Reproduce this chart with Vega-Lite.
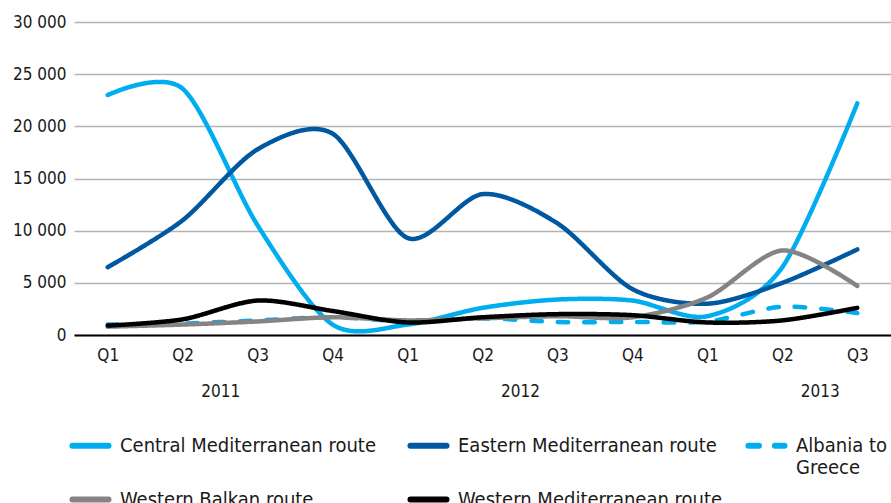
{
  "$schema": "https://vega.github.io/schema/vega-lite/v6.json",
  "width": 817,
  "height": 313,
  "autosize": {"type": "none"},
  "padding": {"left": 74, "top": 22, "right": 0, "bottom": 168},
  "background": "white",
  "config": {
    "font": "Liberation Sans Narrow, DejaVu Sans Condensed, sans-serif",
    "view": {"stroke": null},
    "axis": {"labelFont": "Liberation Sans Narrow, DejaVu Sans Condensed, sans-serif", "labelColor": "#1a1a1a"}
  },
  "data": {
    "values": [
      {"q": "2011-Q1", "route": "Central Mediterranean route", "value": 23000},
      {"q": "2011-Q2", "route": "Central Mediterranean route", "value": 23600},
      {"q": "2011-Q3", "route": "Central Mediterranean route", "value": 10500},
      {"q": "2011-Q4", "route": "Central Mediterranean route", "value": 1000},
      {"q": "2012-Q1", "route": "Central Mediterranean route", "value": 1000},
      {"q": "2012-Q2", "route": "Central Mediterranean route", "value": 2600},
      {"q": "2012-Q3", "route": "Central Mediterranean route", "value": 3400},
      {"q": "2012-Q4", "route": "Central Mediterranean route", "value": 3300},
      {"q": "2013-Q1", "route": "Central Mediterranean route", "value": 1800},
      {"q": "2013-Q2", "route": "Central Mediterranean route", "value": 6500},
      {"q": "2013-Q3", "route": "Central Mediterranean route", "value": 22200},
      {"q": "2011-Q1", "route": "Eastern Mediterranean route", "value": 6500},
      {"q": "2011-Q2", "route": "Eastern Mediterranean route", "value": 11000},
      {"q": "2011-Q3", "route": "Eastern Mediterranean route", "value": 17800},
      {"q": "2011-Q4", "route": "Eastern Mediterranean route", "value": 19300},
      {"q": "2012-Q1", "route": "Eastern Mediterranean route", "value": 9300},
      {"q": "2012-Q2", "route": "Eastern Mediterranean route", "value": 13500},
      {"q": "2012-Q3", "route": "Eastern Mediterranean route", "value": 10700},
      {"q": "2012-Q4", "route": "Eastern Mediterranean route", "value": 4400},
      {"q": "2013-Q1", "route": "Eastern Mediterranean route", "value": 3000},
      {"q": "2013-Q2", "route": "Eastern Mediterranean route", "value": 5000},
      {"q": "2013-Q3", "route": "Eastern Mediterranean route", "value": 8200},
      {"q": "2011-Q1", "route": "Albania to Greece", "value": 1000},
      {"q": "2011-Q2", "route": "Albania to Greece", "value": 1100},
      {"q": "2011-Q3", "route": "Albania to Greece", "value": 1400},
      {"q": "2011-Q4", "route": "Albania to Greece", "value": 1700},
      {"q": "2012-Q1", "route": "Albania to Greece", "value": 1300},
      {"q": "2012-Q2", "route": "Albania to Greece", "value": 1600},
      {"q": "2012-Q3", "route": "Albania to Greece", "value": 1250},
      {"q": "2012-Q4", "route": "Albania to Greece", "value": 1250},
      {"q": "2013-Q1", "route": "Albania to Greece", "value": 1300},
      {"q": "2013-Q2", "route": "Albania to Greece", "value": 2700},
      {"q": "2013-Q3", "route": "Albania to Greece", "value": 2100},
      {"q": "2011-Q1", "route": "Western Balkan route", "value": 800},
      {"q": "2011-Q2", "route": "Western Balkan route", "value": 1000},
      {"q": "2011-Q3", "route": "Western Balkan route", "value": 1300},
      {"q": "2011-Q4", "route": "Western Balkan route", "value": 1700},
      {"q": "2012-Q1", "route": "Western Balkan route", "value": 1400},
      {"q": "2012-Q2", "route": "Western Balkan route", "value": 1600},
      {"q": "2012-Q3", "route": "Western Balkan route", "value": 1800},
      {"q": "2012-Q4", "route": "Western Balkan route", "value": 1700},
      {"q": "2013-Q1", "route": "Western Balkan route", "value": 3600},
      {"q": "2013-Q2", "route": "Western Balkan route", "value": 8100},
      {"q": "2013-Q3", "route": "Western Balkan route", "value": 4700},
      {"q": "2011-Q1", "route": "Western Mediterranean route", "value": 900},
      {"q": "2011-Q2", "route": "Western Mediterranean route", "value": 1500},
      {"q": "2011-Q3", "route": "Western Mediterranean route", "value": 3300},
      {"q": "2011-Q4", "route": "Western Mediterranean route", "value": 2300},
      {"q": "2012-Q1", "route": "Western Mediterranean route", "value": 1200},
      {"q": "2012-Q2", "route": "Western Mediterranean route", "value": 1700},
      {"q": "2012-Q3", "route": "Western Mediterranean route", "value": 2000},
      {"q": "2012-Q4", "route": "Western Mediterranean route", "value": 1900},
      {"q": "2013-Q1", "route": "Western Mediterranean route", "value": 1200},
      {"q": "2013-Q2", "route": "Western Mediterranean route", "value": 1400},
      {"q": "2013-Q3", "route": "Western Mediterranean route", "value": 2600}
    ]
  },
  "layer": [
    {
      "mark": {"type": "line", "interpolate": "cardinal", "tension": 0.15, "strokeWidth": 4.5, "strokeCap": "round", "strokeJoin": "round"},
      "encoding": {
        "x": {
          "field": "q", "type": "ordinal",
          "scale": {"type": "point", "padding": 0.45},
          "axis": {
            "title": null, "labelExpr": "slice(datum.value, 5)", "labelAngle": 0,
            "labelFontSize": 17, "labelPadding": 12, "ticks": false,
            "domainColor": "#000000", "domainWidth": 2, "grid": false
          }
        },
        "y": {
          "field": "value", "type": "quantitative",
          "scale": {"domain": [0, 30000], "nice": false},
          "axis": {
            "title": null, "values": [0, 5000, 10000, 15000, 20000, 25000, 30000],
            "labelExpr": "replace(format(datum.value, ','), ',', ' ')",
            "labelFontSize": 17, "labelPadding": 8, "ticks": false, "domain": false,
            "labelOverlap": false,
            "gridColor": "#b4b4b4", "gridWidth": 1.5
          }
        },
        "color": {
          "field": "route", "type": "nominal",
          "scale": {
            "domain": ["Central Mediterranean route", "Eastern Mediterranean route", "Albania to Greece", "Western Balkan route", "Western Mediterranean route"],
            "range": ["#00aeef", "#0058a0", "#00aeef", "#848484", "#000000"]
          },
          "legend": {
            "title": null, "orient": "none", "legendX": -5, "legendY": 402,
            "direction": "horizontal",
            "columns": 3, "columnPadding": 13, "rowPadding": -11, "padding": 0,
            "gridAlign": "all",
            "symbolType": "stroke", "symbolSize": 1300, "symbolStrokeWidth": 6,
            "labelFontSize": 20, "labelOffset": 8, "labelColor": "#1a1a1a", "labelLimit": 400,
            "labelBaseline": "middle",
            "labelFont": "Liberation Sans Narrow, DejaVu Sans Condensed, sans-serif",
            "labelExpr": "datum.label == 'Albania to Greece' ? ['Albania to', 'Greece'] : [datum.label, ' ']",
            "encode": {
              "symbols": {
                "update": {
                  "strokeDash": {"signal": "datum.value == 'Albania to Greece' ? [0.5, 12.5] : [1, 0]"},
                  "strokeCap": {"value": "round"}
                }
              }
            }
          }
        },
        "strokeDash": {
          "field": "route", "type": "nominal",
          "scale": {
            "domain": ["Central Mediterranean route", "Eastern Mediterranean route", "Albania to Greece", "Western Balkan route", "Western Mediterranean route"],
            "range": [[1, 0], [1, 0], [10.5, 16], [1, 0], [1, 0]]
          },
          "legend": null
        }
      }
    },
    {
      "mark": {"type": "point", "opacity": 0},
      "encoding": {
        "x": {
          "field": "q", "type": "ordinal",
          "scale": {"type": "point", "padding": 0.45},
          "axis": {
            "orient": "bottom", "title": null,
            "labelExpr": "slice(datum.value, 5) == 'Q2' ? slice(datum.value, 0, 4) : ''",
            "labelAngle": 0, "labelOffset": 37.5, "labelFontSize": 17, "labelPadding": 48,
            "ticks": false, "domain": false, "grid": false
          }
        }
      }
    }
  ],
  "resolve": {"axis": {"x": "independent"}}
}
